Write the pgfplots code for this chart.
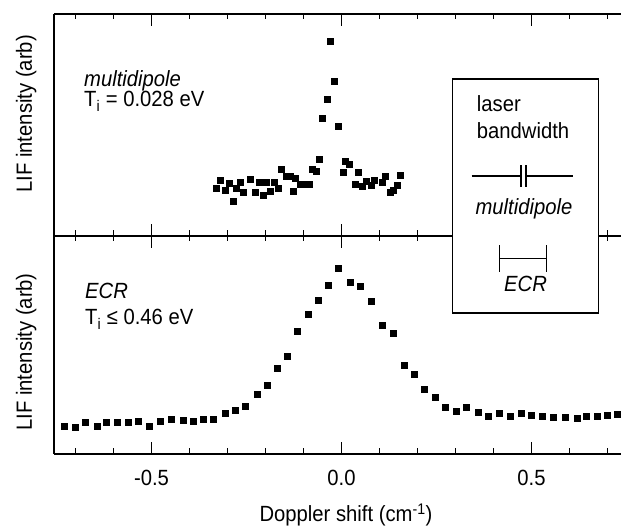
\documentclass[border=0pt]{standalone}
\usepackage{fontspec}
\setmainfont[FakeStretch=0.92]{Liberation Sans}
\usepackage{pgfplots}
\pgfplotsset{compat=1.18}
\begin{document}
\fontsize{22}{26}\selectfont
\begin{tikzpicture}
\path[use as bounding box] (0pt,0pt) rectangle (621pt,527pt);
\pgfplotsset{
  panel/.style={
    scale only axis, width=567pt, xmin=-0.7566, xmax=0.7355, ymin=0,
    axis x line*=box, axis y line*=left,
    xtick={-0.5,0,0.5},
    minor xtick={-0.7,-0.6,-0.4,-0.3,-0.2,-0.1,0.1,0.2,0.3,0.4,0.6,0.7},
    ytick=\empty,
    tick align=inside, xtick pos=both,
    major tick length=12pt, minor tick length=5.5pt,
    tick style={black, line width=1.2pt},
    axis line style={black, line width=1.4pt},
    /pgf/number format/assume math mode=true,
    ylabel={LIF intensity (arb)},
  },
  pts/.style={only marks, mark=square*, mark size=3pt, black},
}
% top panel: multidipole
\begin{axis}[panel, at={(54pt,291pt)}, anchor=south west, height=222pt, ymax=222,
  xticklabels=\empty,
  ylabel style={at={(axis description cs:-0.049,0.55)}, anchor=center}]
\addplot[pts] coordinates {
(-0.331,47.3) (-0.318,56) (-0.307,45.7) (-0.295,53) (-0.286,35) (-0.278,47.3)
(-0.267,53.7) (-0.258,43.3) (-0.241,56.7) (-0.228,43.3) (-0.216,53.3) (-0.207,41)
(-0.199,53.3) (-0.188,45) (-0.178,54) (-0.166,47.7) (-0.159,67) (-0.146,60)
(-0.136,59.3) (-0.128,44.7) (-0.122,57.7) (-0.109,51.7) (-0.096,51.7) (-0.086,51.7)
(-0.078,66.7) (-0.067,64.3) (-0.059,77) (-0.051,117.7) (-0.038,136.7) (-0.030,194.3)
(-0.020,155) (-0.010,110) (0.005,63.3) (0.011,75) (0.021,71.7) (0.036,51.7)
(0.044,64) (0.055,49.3) (0.064,55) (0.077,50.7) (0.086,56) (0.106,53.3)
(0.116,60) (0.128,44) (0.136,45.3) (0.147,50.3) (0.155,61)
};
\end{axis}
% bottom panel: ECR
\begin{axis}[panel, at={(54pt,73pt)}, anchor=south west, height=218pt, ymax=218,
  xticklabel style={yshift=-9pt, /pgf/number format/fixed,
    /pgf/number format/fixed zerofill, /pgf/number format/precision=1},
  ylabel style={at={(axis description cs:-0.049,0.468)}, anchor=center},
  xlabel={Doppler shift (cm\textsuperscript{-1})},
  xlabel style={at={(axis description cs:0.515,-0.28)}, anchor=center}]
\addplot[pts] coordinates {
(-0.729,27.3) (-0.701,26.7) (-0.675,31.3) (-0.644,28) (-0.618,31.3) (-0.590,31.3)
(-0.561,31.3) (-0.535,32.3) (-0.506,27.3) (-0.476,32.3) (-0.447,35) (-0.416,33.3)
(-0.390,32.3) (-0.364,34.7) (-0.337,35) (-0.307,40.7) (-0.280,44) (-0.254,47.3)
(-0.223,59.7) (-0.195,68.3) (-0.169,85.7) (-0.143,98) (-0.116,122.3) (-0.087,140)
(-0.061,154) (-0.035,169) (-0.008,185.7) (0.024,171.3) (0.049,167.3) (0.079,153)
(0.106,128.3) (0.135,120.7) (0.164,88.3) (0.191,80) (0.218,64.7) (0.247,56.3)
(0.274,46.3) (0.303,43) (0.329,46.3) (0.360,41.3) (0.387,37.3) (0.414,40.7)
(0.443,37.3) (0.472,40.7) (0.498,39) (0.527,37.3) (0.557,36.7) (0.588,36.7)
(0.619,35.7) (0.643,37.3) (0.672,37.3) (0.698,38.3) (0.726,39.7)
};
\end{axis}
% panel annotations
\node[anchor=base west, inner sep=0pt] at (84pt,440pt) {\itshape multidipole};
\node[anchor=base west, inner sep=0pt] at (84pt,420pt) {T\textsubscript{i} = 0.028 eV};
\node[anchor=base west, inner sep=0pt] at (85pt,228pt) {\itshape ECR};
\node[anchor=base west, inner sep=0pt] at (85pt,202pt) {T\textsubscript{i} ≤ 0.46 eV};
% laser bandwidth box
\draw[line width=1.4pt, fill=white] (452.5pt,214pt) rectangle (598.5pt,448pt);
\node[anchor=base west, inner sep=0pt] at (476.7pt,415.3pt) {laser};
\node[anchor=base west, inner sep=0pt] at (476.7pt,388pt) {bandwidth};
\draw[line width=1.1pt] (471.7pt,351pt) -- (521pt,351pt)
  (526pt,351pt) -- (573.3pt,351pt)
  (521pt,340.3pt) -- (521pt,362pt) (526pt,340.3pt) -- (526pt,362pt);
\node[anchor=base, inner sep=0pt] at (524pt,312pt) {\itshape multidipole};
\draw[line width=1.1pt] (499.3pt,268.7pt) -- (546.7pt,268.7pt)
  (499.3pt,255.3pt) -- (499.3pt,282pt) (546.7pt,255.3pt) -- (546.7pt,282pt);
\node[anchor=base, inner sep=0pt] at (525.5pt,235.3pt) {\itshape ECR};
\end{tikzpicture}
\end{document}
